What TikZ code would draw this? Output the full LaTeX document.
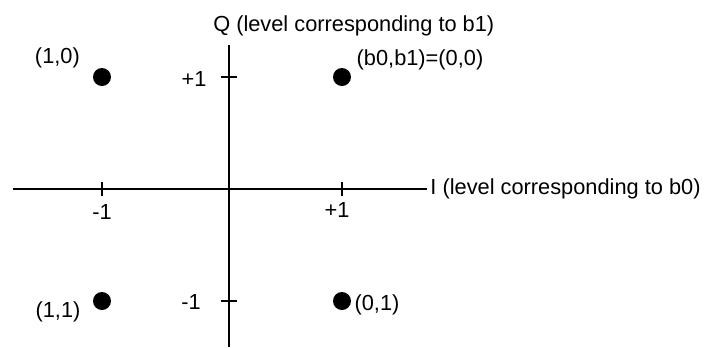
\documentclass[tikz,border=0pt]{standalone}
\usepackage{fontspec}
\setmainfont{Liberation Sans}
\usepackage{tikz}
\usetikzlibrary{positioning}
\tikzstyle{axis} = [line width=1.3pt]
\tikzstyle{tick} = [line width=1.3pt]
\tikzstyle{point} = [circle, fill=black, minimum size=0.45cm, inner sep=0pt]
\tikzstyle{lbl} = [inner sep=0pt, font=\fontsize{15.5}{18}\selectfont]

\begin{document}
\begin{tikzpicture}
        \useasboundingbox (-5.725,-3.95) rectangle (11.9,4.725);
        % Axes
        \coordinate (iw) at (-5.4,0);
        \coordinate (ie) at (4.95,0);
        \coordinate (qs) at (0,-3.95);
        \coordinate (qn) at (0,3.6);
        \draw[axis] (iw) -- (ie);
        \draw[axis] (qs) -- (qn);
        \node (ilbl) [lbl, right=0.08cm of ie] {I (level corresponding to b0)};
        \node (qlbl) [lbl, anchor=west] at (-0.4,4.075) {Q (level corresponding to b1)};
        
        % Ticks
        \coordinate (im) at (-3.175,0);
        \coordinate (ip) at (2.825,0);
        \coordinate (qp) at (0,2.8);
        \coordinate (qm) at (0,-2.8);
        \draw[tick] (im) ++(0,-0.18) -- ++(0,0.36);
        \draw[tick] (ip) ++(0,-0.18) -- ++(0,0.36);
        \draw[tick] (qp) ++(-0.2,0) -- ++(0.4,0);
        \draw[tick] (qm) ++(-0.2,0) -- ++(0.4,0);
        \node (imlbl) [lbl] at (-3.175,-0.57) {-1};
        \node (iplbl) [lbl] at (2.7,-0.525) {+1};
        \node (qplbl) [lbl] at (-0.875,2.75) {+1};
        \node (qmlbl) [lbl] at (-0.95,-2.82) {-1};
        
        % Constellation points
        \node (p10) [point] at (-3.175,2.8) {};
        \node (p00) [point] at (2.825,2.8) {};
        \node (p11) [point] at (-3.175,-2.8) {};
        \node (p01) [point] at (2.825,-2.8) {};
        \node (l10) [lbl] at (-4.29,3.275) {(1,0)};
        \node (l00) [lbl] at (4.775,3.225) {(b0,b1)=(0,0)};
        \node (l11) [lbl] at (-4.275,-3.07) {(1,1)};
        \node (l01) [lbl] at (3.7,-2.9) {(0,1)};
    \end{tikzpicture}
\end{document}
